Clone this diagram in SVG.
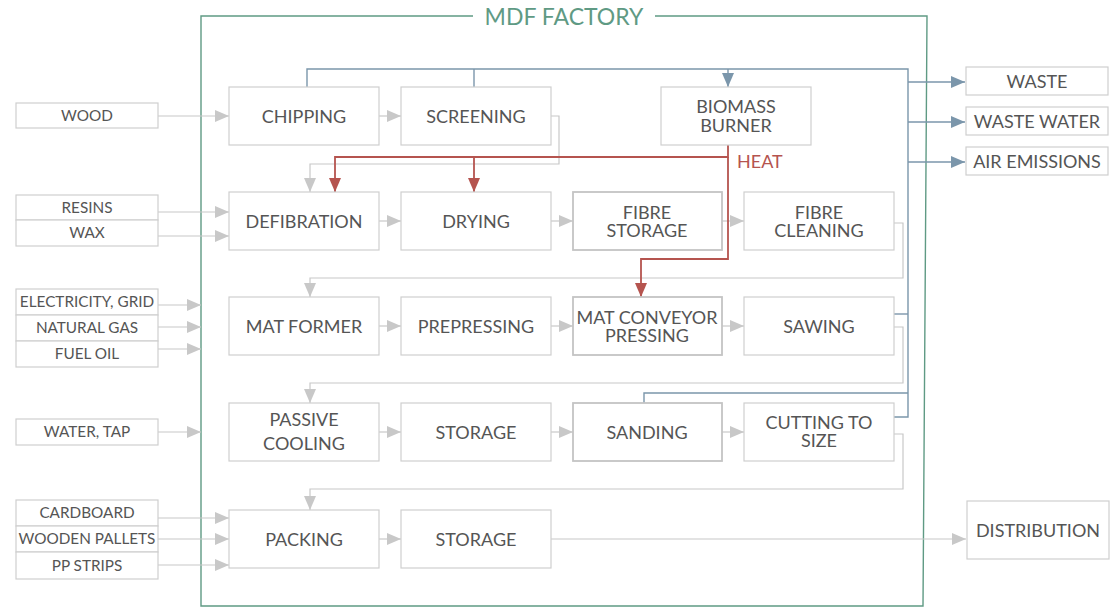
<svg xmlns="http://www.w3.org/2000/svg" width="1110" height="610" viewBox="0 0 1110 610">
<style>
.n{fill:#fff;stroke:#cfcfcf;stroke-width:1.2}
.nd{fill:#fff;stroke:#c4c4c4;stroke-width:1.8}
.t{font-family:Lato,"Open Sans",sans-serif;font-size:18px;fill:#555;text-anchor:middle}
.s{font-family:Lato,"Open Sans",sans-serif;font-size:15.3px;fill:#555;text-anchor:middle}
.g{fill:none;stroke:#c8c8c8;stroke-width:1.2}
.b{fill:none;stroke:#7b96ab;stroke-width:1.4}
.r{fill:none;stroke:#b5544f;stroke-width:1.8}
</style>
<defs>
<marker id="ag" markerUnits="userSpaceOnUse" markerWidth="14" markerHeight="12" refX="14" refY="6" orient="auto"><path d="M0,0L14,6L0,12z" fill="#c8c8c8"/></marker>
<marker id="ab" markerUnits="userSpaceOnUse" markerWidth="14" markerHeight="12" refX="14" refY="6" orient="auto"><path d="M0,0L14,6L0,12z" fill="#7b96ab"/></marker>
<marker id="ar" markerUnits="userSpaceOnUse" markerWidth="14" markerHeight="12" refX="14" refY="6" orient="auto"><path d="M0,0L14,6L0,12z" fill="#b5544f"/></marker>
</defs>
<rect width="1110" height="610" fill="#fff"/>
<g id="frame">
<path d="M473,16H201V606H923L927,16H655" fill="none" stroke="#5f9a84" stroke-width="1.4"/>
<text x="564" y="25" font-family="Lato,'Open Sans',sans-serif" font-size="23" fill="#5f9a84" text-anchor="middle">MDF FACTORY</text>
</g>
<g id="connectors">
<path class="g" d="M158,116H229" marker-end="url(#ag)"/>
<path class="g" d="M379,116H401" marker-end="url(#ag)"/>
<path class="g" d="M551,116H559V164H310V192" marker-end="url(#ag)"/>
<path class="g" d="M158,212H229" marker-end="url(#ag)"/>
<path class="g" d="M158,236H229" marker-end="url(#ag)"/>
<path class="g" d="M379,221H401" marker-end="url(#ag)"/>
<path class="g" d="M551,221H573" marker-end="url(#ag)"/>
<path class="g" d="M722,221H744" marker-end="url(#ag)"/>
<path class="g" d="M894,223H903V278H310V297" marker-end="url(#ag)"/>
<path class="g" d="M158,305H201" marker-end="url(#ag)"/>
<path class="g" d="M158,327H201" marker-end="url(#ag)"/>
<path class="g" d="M158,349H201" marker-end="url(#ag)"/>
<path class="g" d="M379,326H401" marker-end="url(#ag)"/>
<path class="g" d="M551,326H573" marker-end="url(#ag)"/>
<path class="g" d="M722,326H744" marker-end="url(#ag)"/>
<path class="g" d="M894,327H903V383H310V403" marker-end="url(#ag)"/>
<path class="g" d="M158,432H201" marker-end="url(#ag)"/>
<path class="g" d="M379,432H401" marker-end="url(#ag)"/>
<path class="g" d="M551,432H573" marker-end="url(#ag)"/>
<path class="g" d="M722,432H744" marker-end="url(#ag)"/>
<path class="g" d="M894,434H903V489H310V510" marker-end="url(#ag)"/>
<path class="g" d="M158,518H229" marker-end="url(#ag)"/>
<path class="g" d="M158,539H229" marker-end="url(#ag)"/>
<path class="g" d="M158,565H229" marker-end="url(#ag)"/>
<path class="g" d="M379,539H401" marker-end="url(#ag)"/>
<path class="g" d="M551,539H966" marker-end="url(#ag)"/>
<path class="b" d="M307,87V69H908V417H894"/>
<path class="b" d="M474,87V69"/>
<path class="b" d="M728,69V87" marker-end="url(#ab)"/>
<path class="b" d="M894,314H908"/>
<path class="b" d="M644,403V393H908"/>
<path class="b" d="M908,82H965" marker-end="url(#ab)"/>
<path class="b" d="M908,122H965" marker-end="url(#ab)"/>
<path class="b" d="M908,162H965" marker-end="url(#ab)"/>
<path class="r" d="M728,145V157H335V192" marker-end="url(#ar)"/>
<path class="r" d="M474,157V192" marker-end="url(#ar)"/>
<path class="r" d="M728,157V259H641V297" marker-end="url(#ar)"/>
<text x="737" y="168" font-family="Lato,'Open Sans',sans-serif" font-size="18" fill="#b5544f">HEAT</text>
</g>
<g id="wood"><rect class="n" x="16" y="103" width="142" height="25"/><text class="s" x="87" y="121">WOOD</text></g>
<g id="resins"><rect class="n" x="16" y="195" width="142" height="25"/><text class="s" x="87" y="213">RESINS</text></g>
<g id="wax"><rect class="n" x="16" y="220" width="142" height="26"/><text class="s" x="87" y="238">WAX</text></g>
<g id="electricity"><rect class="n" x="16" y="289" width="142" height="26"/><text class="s" x="87" y="307">ELECTRICITY, GRID</text></g>
<g id="gas"><rect class="n" x="16" y="315" width="142" height="26"/><text class="s" x="87" y="333">NATURAL GAS</text></g>
<g id="oil"><rect class="n" x="16" y="341" width="142" height="26"/><text class="s" x="87" y="359">FUEL OIL</text></g>
<g id="water"><rect class="n" x="16" y="419" width="142" height="26"/><text class="s" x="87" y="437">WATER, TAP</text></g>
<g id="cardboard"><rect class="n" x="16" y="500" width="142" height="26"/><text class="s" x="87" y="518">CARDBOARD</text></g>
<g id="pallets"><rect class="n" x="16" y="526" width="142" height="26"/><text class="s" x="87" y="544">WOODEN PALLETS</text></g>
<g id="strips"><rect class="n" x="16" y="552" width="142" height="27"/><text class="s" x="87" y="571">PP STRIPS</text></g>
<g id="waste"><rect class="n" x="966" y="67" width="142" height="28"/><text class="t" x="1037" y="88">WASTE</text></g>
<g id="wastewater"><rect class="n" x="966" y="107" width="142" height="28"/><text class="t" x="1037" y="128">WASTE WATER</text></g>
<g id="air"><rect class="n" x="966" y="147" width="142" height="28"/><text class="t" x="1037" y="168">AIR EMISSIONS</text></g>
<g id="distribution"><rect class="n" x="967" y="501" width="142" height="58"/><text class="t" x="1038" y="537">DISTRIBUTION</text></g>
<g id="chipping"><rect class="n" x="229" y="87" width="150" height="58"/><text class="t" x="304" y="123">CHIPPING</text></g>
<g id="screening"><rect class="n" x="401" y="87" width="150" height="58"/><text class="t" x="476" y="123">SCREENING</text></g>
<g id="biomass"><rect class="n" x="661" y="87" width="150" height="58"/><text class="t" x="736" y="113">BIOMASS</text><text class="t" x="736" y="132">BURNER</text></g>
<g id="defibration"><rect class="n" x="229" y="192" width="150" height="58"/><text class="t" x="304" y="228">DEFIBRATION</text></g>
<g id="drying"><rect class="n" x="401" y="192" width="150" height="58"/><text class="t" x="476" y="228">DRYING</text></g>
<g id="fibrestorage"><rect class="nd" x="573" y="192" width="149" height="58"/><text class="t" x="647" y="219">FIBRE</text><text class="t" x="647" y="237">STORAGE</text></g>
<g id="fibrecleaning"><rect class="n" x="744" y="192" width="150" height="58"/><text class="t" x="819" y="219">FIBRE</text><text class="t" x="819" y="237">CLEANING</text></g>
<g id="matformer"><rect class="n" x="229" y="297" width="150" height="58"/><text class="t" x="304" y="333">MAT FORMER</text></g>
<g id="prepressing"><rect class="n" x="401" y="297" width="150" height="58"/><text class="t" x="476" y="333">PREPRESSING</text></g>
<g id="matconveyor"><rect class="nd" x="573" y="297" width="149" height="58"/><text class="t" x="647" y="324">MAT CONVEYOR</text><text class="t" x="647" y="342">PRESSING</text></g>
<g id="sawing"><rect class="n" x="744" y="297" width="150" height="58"/><text class="t" x="819" y="333">SAWING</text></g>
<g id="cooling"><rect class="n" x="229" y="403" width="150" height="58"/><text class="t" x="304" y="426">PASSIVE</text><text class="t" x="304" y="450">COOLING</text></g>
<g id="storage1"><rect class="n" x="401" y="403" width="150" height="58"/><text class="t" x="476" y="439">STORAGE</text></g>
<g id="sanding"><rect class="nd" x="573" y="403" width="149" height="58"/><text class="t" x="647" y="439">SANDING</text></g>
<g id="cutting"><rect class="n" x="744" y="403" width="150" height="58"/><text class="t" x="819" y="429">CUTTING TO</text><text class="t" x="819" y="447">SIZE</text></g>
<g id="packing"><rect class="n" x="229" y="510" width="150" height="58"/><text class="t" x="304" y="546">PACKING</text></g>
<g id="storage2"><rect class="n" x="401" y="510" width="150" height="58"/><text class="t" x="476" y="546">STORAGE</text></g>
</svg>
